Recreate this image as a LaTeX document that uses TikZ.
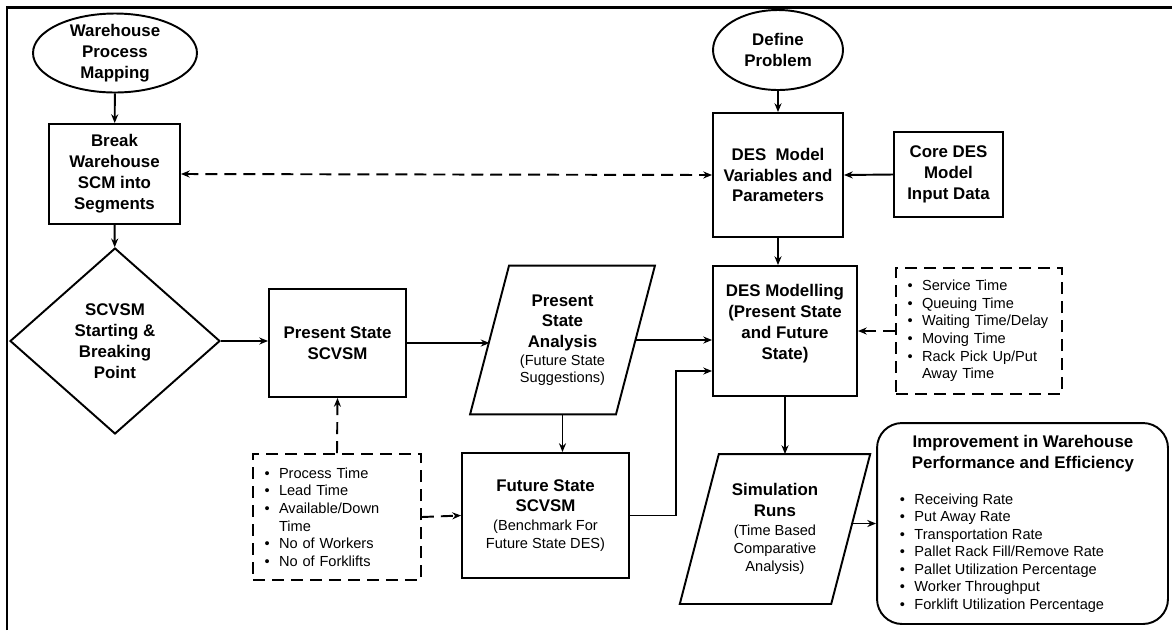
\documentclass[tikz,border=0pt]{standalone}
\usepackage{fontspec}
\setmainfont{Liberation Sans}
\usetikzlibrary{arrows.meta, positioning, shapes.geometric, calc}

\newcommand{\bsize}{\fontsize{9.6}{11.9}\selectfont\bfseries}
\newcommand{\nsize}{\fontsize{8.3}{10}\selectfont}
\newcommand{\plain}[1]{{\nsize\mdseries #1}}
\newcommand{\itm}{\makebox[0.29cm][l]{\textbullet}}
% parallelogram drawn round a named node, top shifted right
\newcommand{\slantframe}[1]{%
  \draw ($(#1.north west)+(19.5,0)$) -- ($(#1.north east)+(19.5,0)$)
    -- ($(#1.south east)+(-19.5,0)$) -- ($(#1.south west)+(-19.5,0)$) -- cycle;}

\begin{document}
\begin{tikzpicture}[x=0.02cm, y=-0.02cm, line width=1.1pt,
  box/.style={draw, rectangle, align=center, font=\bsize, inner sep=1pt},
  oval/.style={draw, ellipse, align=center, font=\bsize, inner xsep=0pt, inner ysep=-2pt},
  slantbox/.style={rectangle, align=center, font=\bsize, inner sep=1pt},
  notebox/.style={draw, rectangle, dash pattern=on 0.24cm off 0.14cm, align=left,
    font=\nsize, inner xsep=0.23cm},
  flow/.style={-{Stealth[length=5pt,width=4pt]}},
  dflow/.style={flow, dash pattern=on 0.24cm off 0.14cm}]

  \useasboundingbox (0,0) rectangle (1172,630);
  % Frame
  \draw[line width=1.7pt] (7,630) -- (7,7) -- (1172,7);

  % Left column
  \node[oval, minimum width=3.28cm, minimum height=1.58cm] (mapping) at (115,53) {Warehouse\\Process\\Mapping};
  \node[box, minimum width=2.62cm, minimum height=2cm] (breakup) at (114.5,174) {Break\\Warehouse\\SCM into\\Segments};
  \node[draw, diamond, align=center, font=\bsize, inner sep=0pt, minimum width=4.2cm, minimum height=3.72cm] (startpt) at (115,341) {SCVSM\\Starting \&\\Breaking\\Point};

  % Middle row
  \node[box, minimum width=2.74cm, minimum height=2.16cm] (present) at (337.5,343) {Present State\\SCVSM};
  \node[slantbox, minimum width=2.88cm, minimum height=2.94cm] (analysis) at (562.5,340) {Present\\State\\Analysis\\[-1.7pt]\plain{(Future State}\\[-2.3pt]\plain{Suggestions)}};
  \slantframe{analysis}
  \node[box, minimum width=3.34cm, minimum height=2.5cm] (future) at (545.5,515.5) {Future State\\SCVSM\\[-1.2pt]\plain{(Benchmark For}\\[-1.7pt]\plain{Future State DES)}};
  \node[notebox, text width=2.9cm, minimum width=3.36cm, minimum height=2.52cm] (inputs) at (337,517) {\itm Process Time\\\itm Lead Time\\\itm Available/Down\\\hspace*{0.29cm}Time\\\itm No of Workers\\\itm No of Forklifts};

  % Right column
  \node[oval, minimum width=2.6cm, minimum height=1.6cm] (problem) at (778,50) {Define\\Problem};
  \node[box, minimum width=2.6cm, minimum height=2.48cm] (params) at (778,175) {DES~ Model\\Variables and\\Parameters};
  \node[box, minimum width=2.18cm, minimum height=1.7cm] (coredata) at (948.5,174.5) {Core DES\\Model\\Input Data};
  \node[box, minimum width=2.88cm, minimum height=2.6cm, text depth=0.36cm] (modelling) at (785,331) {DES Modelling\\(Present State\\and Future\\State)};
  \node[notebox, text width=2.86cm, minimum width=3.32cm, minimum height=2.52cm] (timings) at (979,331) {\itm Service Time\\\itm Queuing Time\\\itm Waiting Time/Delay\\\itm Moving Time\\\itm Rack Pick Up/Put\\\hspace*{0.29cm}Away Time};
  \node[slantbox, minimum width=2.99cm, minimum height=2.96cm] (sim) at (775,529) {Simulation\\Runs\\[-1.2pt]\plain{(Time Based}\\[-1.7pt]\plain{Comparative}\\[-1.7pt]\plain{Analysis)}};
  \slantframe{sim}

  % Outcome box
  \node[draw, rectangle, rounded corners=0.5cm, minimum width=5.82cm, minimum height=4.02cm] (improve) at (1022.5,523.5) {};
  \node[font=\bsize, align=center, inner sep=0pt] (improvetitle) at (1023,454) {Improvement in Warehouse\\Performance and Efficiency};
  \node[font=\nsize, align=left, anchor=west, inner sep=0pt] (improvelist) at (899,553) {\itm Receiving Rate\\\itm Put Away Rate\\\itm Transportation Rate\\\itm Pallet Rack Fill/Remove Rate\\\itm Pallet Utilization Percentage\\\itm Worker Throughput\\\itm Forklift Utilization Percentage};

  % Arrows
  \draw[flow] (mapping) -- (breakup);
  \draw[flow] (breakup) -- (startpt);
  \draw[dflow, {Stealth[length=5pt,width=4pt]}-{Stealth[length=5pt,width=4pt]}] (breakup.east) -- (params.west);
  \draw[flow] (problem) -- (params);
  \draw[flow] (coredata.west) -- (params.east);
  \draw[flow] (params.south) -- (params.south |- modelling.north);
  \draw[flow] (startpt.east) -- (startpt.east -| present.west);
  \draw[flow] (present.east) -- (present.east -| analysis.west);
  \draw[flow] (analysis.east) -- (analysis.east -| modelling.west);
  \draw[flow] (analysis.south) -- (analysis.south |- future.north);
  \draw[dflow] (inputs.north) -- (present.south);
  \draw[dflow] (inputs.east) -- (future.west);
  \draw[flow] (future.east) -- ++(46,0) |- ($(modelling.west)+(0,40)$);
  \draw[dflow] (timings.west) -- (modelling.east);
  \draw[flow] (modelling.south) -- (modelling.south |- sim.north);
  \draw[flow] (improve.west -| sim.east) -- (improve.west);
\end{tikzpicture}
\end{document}
